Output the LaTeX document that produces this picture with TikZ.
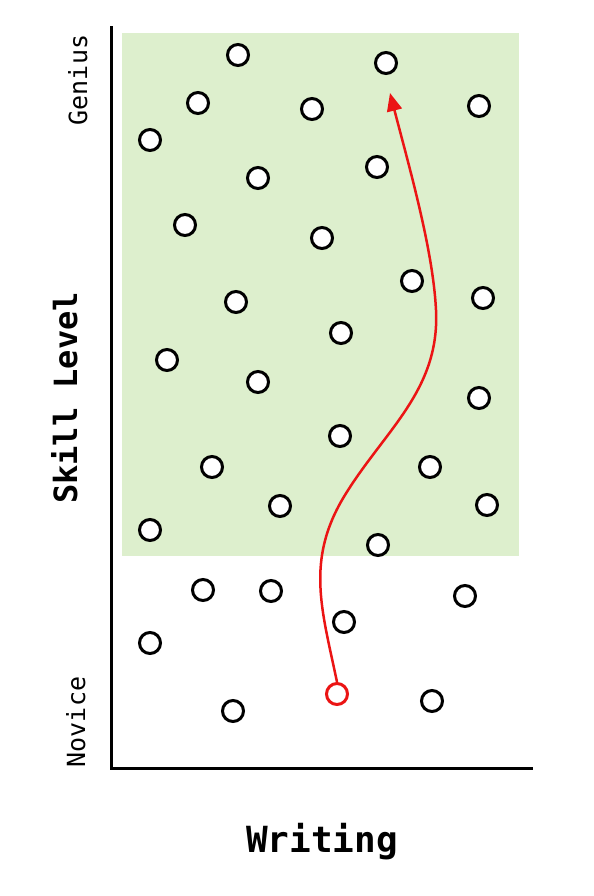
\documentclass[tikz,border=0pt]{standalone}
\usepackage{fontspec}
\setmonofont{DejaVu Sans Mono}
\usepackage{xcolor}
\usepackage{tikz}
\usetikzlibrary{arrows.meta,positioning}

\definecolor{zonegreen}{RGB}{221,239,205}
\definecolor{pathred}{RGB}{235,20,20}

\begin{document}
\begin{tikzpicture}[
      x=1bp, y=-1bp,
      dot/.style={
         circle,
         draw=black,
         fill=white,
         line width=3bp,
         inner sep=0pt,
         minimum size=21bp},
      startdot/.style={dot, draw=pathred},
      myarrow/.style={-{Triangle[length=18bp,width=15bp]}, draw=pathred, line width=2.5bp},
      axisline/.style={line width=3bp},
      biglabel/.style={font=\ttfamily\bfseries\fontsize{36bp}{40bp}\selectfont, inner sep=0pt},
      smalllabel/.style={font=\ttfamily\fontsize{25bp}{28bp}\selectfont, inner sep=0pt}
      ]
\useasboundingbox (0,0) rectangle (594,896);

% zone above novice level
\fill[zonegreen] (122,33) rectangle (519,556);

% axes
\coordinate (ytop) at (111,26);
\coordinate (xend) at (533,768);
\draw[axisline] (ytop) |- (xend);

\node[biglabel,font=\ttfamily\bfseries\fontsize{32bp}{36bp}\selectfont,anchor=base,rotate=90] (skill) at (77,398) {Skill Level};
\node[biglabel,anchor=base] (writing) at (322,852) {Writing};
\node[smalllabel,anchor=base,rotate=90] (genius) at (87,80) {Genius};
\node[smalllabel,anchor=base,rotate=90] (novice) at (85,722) {Novice};

\foreach \x/\y [count=\i] in {% x/y of each writer
      238/55, 386/63, 198/103, 312/109, 479/106, 150/140,
      258/178, 377/167, 185/225, 322/238, 412/281, 236/302,
      483/298, 341/333, 167/360, 258/382, 479/398, 340/436,
      212/467, 430/467, 280/506, 487/505, 150/530, 378/545,
      203/590, 271/591, 465/596, 344/622, 150/643, 233/711,
      432/701}
   \node[dot] (w\i) at (\x,\y) {};

\node[startdot] (start) at (337,694) {};
\coordinate (goal) at (390,93);

\draw[myarrow] (start.north) .. controls (322,610) and (305,560) .. (345,495)
      .. controls (385,430) and (440,390) .. (436,310)
      .. controls (433,250) and (410,170) .. (goal);

\end{tikzpicture}
\end{document}
